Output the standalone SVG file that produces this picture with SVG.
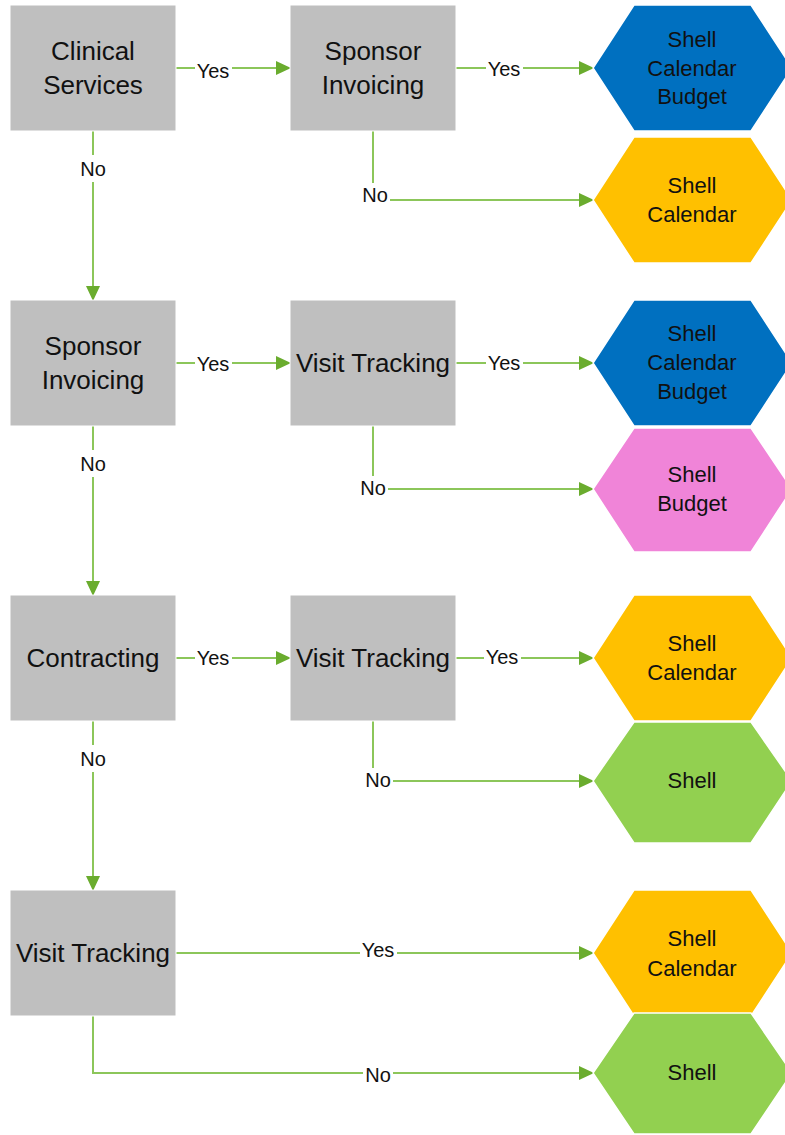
<svg xmlns="http://www.w3.org/2000/svg" width="785" height="1135" viewBox="0 0 785 1135">
<defs>
<marker id="arr" markerUnits="userSpaceOnUse" markerWidth="15" markerHeight="14" refX="14" refY="7" orient="auto">
<path d="M0,0 L15,7 L0,14 Z" fill="#6AAC2E"/>
</marker>
<style>
.box{fill:#BFBFBF;stroke:#FFFFFF;stroke-width:1}
.hex{stroke:#FFFFFF;stroke-width:1.5}
.blue{fill:#0070C0}
.yellow{fill:#FFC000}
.pink{fill:#F084D8}
.green{fill:#92D050}
.bt{font-family:"Liberation Sans",Arial,sans-serif;font-size:26px;fill:#111111;text-anchor:middle}
.ht{font-family:"Liberation Sans",Arial,sans-serif;font-size:22px;fill:#111111;text-anchor:middle}
.lt{font-family:"Liberation Sans",Arial,sans-serif;font-size:20px;fill:#111111;text-anchor:middle}
.c{fill:none;stroke:#8CC65A;stroke-width:2;marker-end:url(#arr)}
.lb{fill:#FFFFFF}
</style>
</defs>
<rect width="785" height="1135" fill="#FFFFFF"/>

<g id="connectors">
<path class="c" d="M176,68 H290"/>
<path class="c" d="M456,68 H593"/>
<path class="c" d="M373,131 V200 H593"/>
<path class="c" d="M93,131 V300"/>
<path class="c" d="M176,363 H290"/>
<path class="c" d="M456,363 H593"/>
<path class="c" d="M373,426 V489 H593"/>
<path class="c" d="M93,426 V595"/>
<path class="c" d="M176,658 H290"/>
<path class="c" d="M456,658 H593"/>
<path class="c" d="M373,721 V781 H593"/>
<path class="c" d="M93,721 V890"/>
<path class="c" d="M176,953 H593"/>
<path class="c" d="M93,1016 V1073 H593"/>

<rect class="lb" x="195" y="60" width="37" height="22"/><text class="lt" x="213" y="78">Yes</text>
<rect class="lb" x="486" y="57" width="37" height="22"/><text class="lt" x="504" y="76">Yes</text>
<rect class="lb" x="360" y="183" width="30" height="24"/><text class="lt" x="375" y="202">No</text>
<rect class="lb" x="78" y="155" width="30" height="27"/><text class="lt" x="93" y="176">No</text>
<rect class="lb" x="195" y="353" width="37" height="22"/><text class="lt" x="213" y="371">Yes</text>
<rect class="lb" x="486" y="351" width="37" height="22"/><text class="lt" x="504" y="370">Yes</text>
<rect class="lb" x="358" y="476" width="30" height="24"/><text class="lt" x="373" y="495">No</text>
<rect class="lb" x="78" y="450" width="30" height="27"/><text class="lt" x="93" y="471">No</text>
<rect class="lb" x="195" y="646" width="37" height="22"/><text class="lt" x="213" y="665">Yes</text>
<rect class="lb" x="484" y="645" width="37" height="22"/><text class="lt" x="502" y="664">Yes</text>
<rect class="lb" x="363" y="768" width="30" height="24"/><text class="lt" x="378" y="787">No</text>
<rect class="lb" x="78" y="745" width="30" height="27"/><text class="lt" x="93" y="766">No</text>
<rect class="lb" x="360" y="939" width="37" height="22"/><text class="lt" x="378" y="957">Yes</text>
<rect class="lb" x="363" y="1063" width="30" height="22"/><text class="lt" x="378" y="1082">No</text>
</g>

<g id="n-clinical-services">
<rect class="box" x="10" y="5" width="166" height="126"/>
<text class="bt" x="93" y="60">Clinical</text>
<text class="bt" x="93" y="94">Services</text>
</g>
<g id="n-sponsor-invoicing-1">
<rect class="box" x="290" y="5" width="166" height="126"/>
<text class="bt" x="373" y="60">Sponsor</text>
<text class="bt" x="373" y="94">Invoicing</text>
</g>
<g id="n-hex-1">
<polygon class="hex blue" points="593,68 634,5 751,5 792,68 751,131 634,131"/>
<text class="ht" x="692" y="47">Shell</text>
<text class="ht" x="692" y="76">Calendar</text>
<text class="ht" x="692" y="104">Budget</text>
</g>
<g id="n-hex-2">
<polygon class="hex yellow" points="593,200 634,137 751,137 792,200 751,263 634,263"/>
<text class="ht" x="692" y="193">Shell</text>
<text class="ht" x="692" y="222">Calendar</text>
</g>

<g id="n-sponsor-invoicing-2">
<rect class="box" x="10" y="300" width="166" height="126"/>
<text class="bt" x="93" y="355">Sponsor</text>
<text class="bt" x="93" y="389">Invoicing</text>
</g>
<g id="n-visit-tracking-1">
<rect class="box" x="290" y="300" width="166" height="126"/>
<text class="bt" x="373" y="372">Visit Tracking</text>
</g>
<g id="n-hex-3">
<polygon class="hex blue" points="593,363 634,300 751,300 792,363 751,426 634,426"/>
<text class="ht" x="692" y="341">Shell</text>
<text class="ht" x="692" y="370">Calendar</text>
<text class="ht" x="692" y="399">Budget</text>
</g>
<g id="n-hex-4">
<polygon class="hex pink" points="593,489 634,428 751,428 792,489 751,552 634,552"/>
<text class="ht" x="692" y="482">Shell</text>
<text class="ht" x="692" y="511">Budget</text>
</g>

<g id="n-contracting">
<rect class="box" x="10" y="595" width="166" height="126"/>
<text class="bt" x="93" y="667">Contracting</text>
</g>
<g id="n-visit-tracking-2">
<rect class="box" x="290" y="595" width="166" height="126"/>
<text class="bt" x="373" y="667">Visit Tracking</text>
</g>
<g id="n-hex-5">
<polygon class="hex yellow" points="593,658 634,595 751,595 792,658 751,721 634,721"/>
<text class="ht" x="692" y="651">Shell</text>
<text class="ht" x="692" y="680">Calendar</text>
</g>
<g id="n-hex-6">
<polygon class="hex green" points="593,781 634,722 751,722 792,781 751,843 634,843"/>
<text class="ht" x="692" y="788">Shell</text>
</g>

<g id="n-visit-tracking-3">
<rect class="box" x="10" y="890" width="166" height="126"/>
<text class="bt" x="93" y="962">Visit Tracking</text>
</g>
<g id="n-hex-7">
<polygon class="hex yellow" points="593,953 634,890 751,890 792,953 751,1016 634,1016"/>
<text class="ht" x="692" y="946">Shell</text>
<text class="ht" x="692" y="976">Calendar</text>
</g>
<g id="n-hex-8">
<polygon class="hex green" points="593,1073 634,1013 751,1013 792,1073 751,1134 634,1134"/>
<text class="ht" x="692" y="1080">Shell</text>
</g>
</svg>
